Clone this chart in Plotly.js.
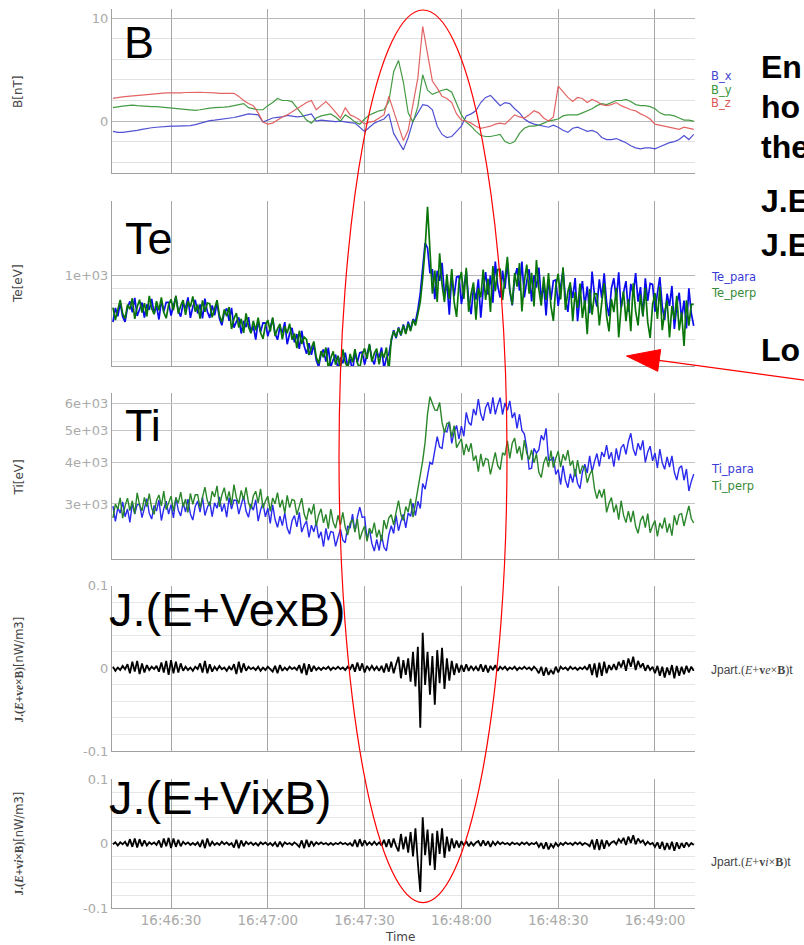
<!DOCTYPE html>
<html><head><meta charset="utf-8">
<script src="https://cdn.plot.ly/plotly-3.0.1.min.js"></script>
<style>html,body{margin:0;padding:0;background:#fff}#chart{width:804px;height:945px}</style>
</head><body><div id="chart"></div>
<script>
// ---------- data ----------
const DAY = '2015-10-16';
const T_START = 12;      // first sample, seconds after 16:46:00
const STEP_B = 1.5;      // sampling of the B series (s)
const STEP = 0.75;       // sampling of Te, Ti, J series (s)

const Bx = [-1.0,-1.1,-1.1,-1.05,-1.0,-0.9,-0.8,-0.7,-0.65,-0.6,
-0.55,-0.5,-0.5,-0.5,-0.5,-0.48,-0.45,-0.35,-0.2,-0.05,
0.05,0.1,0.15,0.25,0.3,0.35,0.45,0.55,0.7,0.65,
0.6,-0.1,0.1,0.3,0.35,0.4,0.55,0.5,0.4,0.45,
0.55,0.7,0.0,0.1,0.05,0.0,-0.05,0.0,-0.1,-0.15,
-0.2,-0.6,-1.0,-0.6,-0.2,0.0,0.2,0.7,-1.2,-2.0,
-2.8,-1.6,0.0,0.8,1.6,1.5,1.1,-0.5,-1.3,-1.6,
-1.5,-1.0,-0.5,0.5,0.7,1.0,1.8,2.3,2.5,2.0,
1.5,1.8,1.7,1.2,0.8,0.2,-0.1,-0.3,-0.4,-0.5,
-0.6,-0.4,-0.6,-0.9,-1.1,-0.7,-0.6,-0.8,-1.0,-0.9,
-1.1,-1.6,-1.8,-1.8,-1.7,-1.9,-2.1,-2.4,-2.6,-2.7,
-2.6,-2.6,-2.7,-2.5,-2.3,-2.1,-2.0,-1.8,-1.4,-1.8,
-1.3];
const By = [1.3,1.4,1.45,1.5,1.55,1.5,1.45,1.45,1.4,1.4,
1.35,1.3,1.3,1.25,1.2,1.15,1.1,1.05,1.1,1.2,
1.25,1.3,1.3,1.35,1.4,1.5,1.6,1.7,1.3,1.2,
1.1,1.1,1.5,1.8,2.2,2.0,2.0,1.9,1.3,0.6,
0.1,-0.2,0.3,0.5,0.6,0.7,0.4,0.0,0.6,0.3,
-0.1,-0.3,0.2,0.6,0.8,1.0,1.1,1.9,4.8,5.9,
3.8,0.8,-0.1,1.4,4.5,3.0,2.6,2.8,3.0,3.1,
2.8,1.7,0.6,-0.1,-0.5,-1.0,-1.4,-1.5,-1.5,-1.4,
-1.3,-2.0,-2.2,-2.0,-1.2,-0.7,-0.5,-0.5,-0.4,-0.2,
0.0,0.1,0.2,0.5,0.6,0.6,0.6,0.8,1.0,1.2,
1.5,1.7,1.6,1.8,2.0,2.0,2.1,1.9,1.6,1.5,
1.5,1.4,1.2,0.8,0.6,0.6,0.5,0.3,0.1,0.1,
0.0];
const Bz = [2.2,2.3,2.35,2.4,2.45,2.5,2.55,2.6,2.6,2.65,
2.7,2.75,2.75,2.72,2.75,2.78,2.8,2.8,2.8,2.78,
2.8,2.75,2.7,2.72,2.75,2.7,2.4,2.0,1.7,1.5,
0.8,-0.1,-0.3,-0.2,0.1,0.4,0.6,0.9,1.2,1.5,
1.8,2.0,1.1,1.5,1.9,1.4,0.9,0.3,1.3,0.6,
0.4,0.1,-0.3,-0.1,0.0,0.3,0.6,2.4,1.0,-0.3,
-1.9,-0.9,1.5,4.2,9.2,6.5,3.9,3.2,2.4,2.2,
1.8,0.7,0.1,0.0,-0.2,-0.5,-0.7,-0.6,-0.5,-0.3,
-0.2,-0.3,0.2,0.6,0.4,0.3,0.6,1.0,0.8,0.3,
0.0,0.4,3.4,2.8,2.3,1.9,2.3,2.2,1.8,2.1,
1.9,1.6,1.5,1.6,1.8,1.5,1.3,1.1,1.0,0.7,
0.5,0.2,-0.3,-0.4,-0.5,-0.6,-0.7,-0.8,-0.6,-0.7,
-0.8];

const Te_para = [689,771,721,803,718,689,773,813,745,837,
723,769,805,713,794,760,830,737,784,703,
818,749,807,807,726,785,844,753,719,801,
768,840,712,779,823,738,793,709,832,749,
712,787,727,801,708,671,744,769,695,772,
658,691,714,628,695,661,716,632,668,598,
695,635,684,683,614,661,707,628,597,663,
632,688,576,627,657,585,625,555,642,569,
533,581,529,575,507,480,532,552,501,560,
479,508,530,467,518,494,538,480,513,462,
541,498,538,541,489,531,572,512,490,543,
517,561,473,517,532,590,645,605,660,618,
675,630,690,648,705,690,760,870,1050,1300,
1250,1020,1053,828,1041,960,1110,856,943,731,
1005,849,991,997,796,920,1040,818,734,908,
825,972,713,894,1029,858,1002,805,1120,922,
839,1042,902,1107,879,787,984,1063,886,1120,
840,960,1053,813,1004,909,1067,832,926,726,
974,823,959,966,784,915,1044,829,747,922,
836,981,693,850,958,783,917,740,1034,855,
780,971,835,1019,804,722,904,980,821,1027,
768,875,957,748,936,859,1021,811,912,722,
979,816,940,933,749,870,989,780,700,865,
784,921,651,786,872,706,818,654,904,739,
668];
const Te_perp = [773,700,761,823,737,708,793,763,834,706,
777,824,743,802,721,850,768,733,815,757,
839,745,710,792,827,758,852,737,785,821,
729,813,778,846,749,793,708,820,748,803,
799,715,768,821,726,688,762,721,777,651,
707,740,659,707,631,739,663,629,695,644,
713,632,602,671,700,638,715,615,652,679,
599,665,629,680,598,628,558,642,577,610,
599,528,559,589,520,493,545,518,561,472,
515,544,489,525,470,553,497,477,533,498,
554,495,473,531,557,512,578,501,535,556,
490,543,517,561,461,600,640,610,655,620,
670,625,680,640,700,670,735,810,980,1250,
1740,1250,865,1042,810,1198,931,809,1012,829,
1054,808,718,947,1031,830,1066,748,864,947,
702,904,840,1050,823,976,747,1080,883,1051,
1053,822,994,1165,898,792,1022,916,1108,750,
955,1094,865,1023,781,1134,896,786,993,823,
1022,783,695,917,1016,826,1071,759,879,949,
693,877,772,938,712,821,625,898,731,866,
863,670,805,940,722,639,828,746,907,609,
772,881,693,829,640,940,751,670,859,720,
907,688,606,791,869,706,914,645,746,819,
608,783,703,850,644,744,568,820,669,794,
794];

const Ti_para = [2955,2662,2924,2816,3042,2748,2900,2642,3018,2797,
2987,2990,2731,2920,3111,2814,2703,2969,2858,3087,
2676,2904,3058,2796,2988,2723,3139,2874,2761,3026,
2836,3101,2798,2685,2950,3063,2836,3146,2771,2929,
3048,2749,3023,2913,3149,2846,3007,2741,3134,2895,
3082,3074,2798,2984,3168,2856,2735,2995,2874,3090,
2664,2878,3016,2744,2918,2624,2984,2695,2553,2759,
2582,2819,2541,2434,2670,2769,2561,2830,2470,2585,
2665,2381,2592,2473,2647,2368,2474,2232,2534,2335,
2479,2467,2239,2382,2521,2335,2295,2578,2537,2799,
2476,2739,2936,2733,2746,2344,2521,2283,2167,2348,
2175,2421,2223,2169,2424,2580,2447,2772,2493,2660,
2794,2542,2819,2755,3019,2766,3055,2909,3455,3323,
3679,4001,3945,4351,4776,4445,4405,4983,4939,5301,
4564,4931,5166,4701,5139,4793,5652,5277,5167,5789,
5545,6193,5575,5336,5848,6058,5596,6267,5577,5951,
6255,5564,6036,5738,6118,5438,5645,5059,5580,4987,
4873,4426,3819,3844,4406,4264,4366,4819,4662,5059,
4065,4067,4153,3680,3806,3430,3909,3536,3357,3696,
3480,3821,3463,3338,3734,3947,3718,4186,3747,4022,
4252,3891,4295,4156,4510,4094,4290,3883,4404,4053,
4428,4533,4231,4623,4890,4390,4188,4566,4356,4659,
4000,4300,4474,4043,4268,3847,4384,3991,3812,4154,
3872,4185,3734,3540,3844,3905,3535,3822,3282,3506,
3688];
const Ti_perp = [2723,2998,2893,3132,2721,2961,3124,2864,3067,2803,
3240,2976,2861,3138,2944,3222,2910,2794,3072,3193,
2959,3277,2885,3045,3167,2853,3133,3016,3258,2943,
3105,2828,3230,2993,3197,3200,2923,3145,3371,3066,
2964,3275,3151,3399,2943,3192,3358,3068,3275,2980,
3431,3137,3008,3293,3082,3365,3032,2897,3169,3277,
3021,3329,2915,3061,3167,2850,3127,3008,3246,2929,
3088,2810,3182,2925,3096,3072,2782,2950,3122,2804,
2677,2920,2793,2996,2577,2777,2902,2633,2793,2528,
2895,2646,2537,2775,2596,2833,2551,2420,2629,2699,
2470,2703,2348,2477,2574,2316,2541,2445,2638,2380,
2509,2318,2684,2521,2727,2786,2596,2830,3072,2783,
2678,2946,2841,3114,2737,3015,3300,3600,4050,4600,
5600,6300,6000,5750,5727,6049,5273,4911,5232,5264,
4767,5157,4431,4564,4709,4208,4544,4301,4564,4049,
4194,3750,4240,3889,4111,4073,3681,3980,4285,3916,
3803,4272,4205,4645,4115,4564,4729,4254,4471,4062,
4667,4259,4076,4360,3986,4246,3732,3601,3980,4158,
3872,4336,3856,4115,4323,3873,4230,4052,4352,3908,
4051,3624,4064,3696,3898,3855,3476,3671,3801,3338,
3113,3314,3135,3326,2830,3015,3136,2832,2988,2691,
3068,2777,2637,2857,2647,2861,2567,2449,2674,2762,
2547,2808,2460,2584,2674,2397,2631,2531,2731,2464,
2622,2409,2774,2593,2791,2807,2576,2768,2962,2709,
2630];

const J_ve = [.002,-.003,.001,-.002,.003,-.001,
.005,-.006,.008,-.004,.009,-.007,.006,-.005,.004,
-.002,.002,-.001,.003,
-.004,.007,-.005,.009,-.008,.01,-.006,.008,-.005,.006,-.003,
.002,-.002,.001,-.003,.002,-.001,
.006,-.005,.009,-.006,.005,-.004,
.002,-.002,.003,-.001,.001,-.003,.002,-.002,
.005,-.007,.008,-.005,.006,-.003,
.002,-.001,.001,-.002,.002,-.003,.001,-.002,.002,-.001,
-.004,.003,-.006,.004,-.003,
.001,-.002,.002,-.001,.001,-.002,
.004,-.006,.006,-.008,.005,-.004,.003,-.002,
.001,-.002,.001,-.001,.002,-.002,.001,-.001,.002,-.001,.001,-.002,.002,-.001,
.005,-.004,.007,-.003,.006,-.005,.003,
-.002,.003,-.002,.002,-.003,.003,
-.005,.006,-.004,.008,-.006,.005,
.014,-.012,.01,-.008,.012,-.016,.02,-.022,.026,-.072,.043,-.02,.02,-.032,.015,-.044,.022,-.018,.025,-.025,.012,-.015,.009,-.008,
.006,-.005,.004,-.004,.005,-.003,.003,-.002,.002,
-.003,.005,-.004,.004,-.005,.003,-.002,.004,-.003,.002,
-.001,.002,-.002,.001,-.001,.002,-.002,.001,-.001,.002,-.001,.001,-.002,.002,-.001,
-.006,.002,-.009,.001,-.008,-.002,-.007,.002,-.005,
.002,-.001,.001,-.002,.002,-.001,.001,-.002,.001,-.001,.002,-.002,
.005,-.008,.006,-.011,.007,-.009,.008,-.006,.004,
-.002,
.005,-.002,.008,.001,.01,-.003,.012,.002,.014,-.002,.009,.001,.006,-.003,.004,
-.002,.002,
-.006,.003,-.009,.002,-.011,.001,-.008,.004,-.012,.003,-.009,.002,-.007,.003,-.005,
.002,-.003];
const J_vi = [-.001,.002,-.003,.002,-.001,.003,
-.004,.007,-.005,.008,-.006,.007,-.004,.005,-.003,
.002,-.001,.002,-.002,
.005,-.006,.008,-.004,.009,-.007,.008,-.005,.006,-.004,.003,
-.001,.002,-.002,.001,-.002,.002,
-.005,.006,-.007,.008,-.004,.003,
-.002,.001,-.002,.003,-.001,.002,-.002,.001,
-.006,.006,-.007,.005,-.004,.003,
-.001,.002,-.002,.001,-.003,.002,-.001,.002,-.002,.001,
-.003,.002,-.005,.003,-.004,
.002,-.001,.001,-.002,.002,-.001,
-.005,.005,-.007,.006,-.005,.004,-.003,.002,
-.001,.002,-.001,.001,-.002,.001,-.002,.001,-.001,.002,-.001,.001,-.002,.001,
-.004,.006,-.005,.007,-.004,.005,-.002,
.002,-.002,.003,-.002,.002,-.003,
.006,-.005,.007,-.006,.008,-.004,
-.012,.015,-.009,.011,-.014,.018,-.02,.024,-.03,-.075,.041,-.018,.022,-.034,.016,-.041,.02,-.016,.024,-.022,.011,-.012,.008,-.007,
.005,-.006,.004,-.003,.004,-.004,.002,-.003,.002,
.004,-.004,.005,-.003,.004,-.005,.003,-.002,.003,-.001,
.002,-.001,.001,-.002,.002,-.001,.001,-.002,.002,-.001,.002,-.002,.001,-.001,.002,
-.005,.001,-.008,.002,-.009,-.001,-.006,.001,-.004,
.001,-.002,.002,-.001,.001,-.002,.002,-.001,.002,-.002,.001,-.001,
-.004,.006,-.009,.007,-.01,.006,-.008,.005,-.003,
.002,
.004,-.001,.007,.002,.009,-.002,.011,.001,.013,-.001,.008,.002,.005,-.002,.003,
-.001,.001,
-.005,.002,-.008,.003,-.01,.001,-.009,.003,-.011,.002,-.008,.001,-.006,.002,-.004,
.001,-.002];

// ---------- helpers ----------
function stamp(s){
  const m = 46 + Math.floor(s/60);
  const sec = s - 60*Math.floor(s/60);
  return DAY + ' 16:' + m + ':' + (sec < 10 ? '0' : '') + sec.toFixed(3);
}
function times(n, step){ return Array.from({length:n}, (_, i) => stamp(T_START + i*step)); }

const W = 804, H = 945;
const X = p => p / W, Y = p => 1 - p / H;

function tr(y, step, xa, ya, color, width, opacity){
  return {type:'scatter', mode:'lines', x: times(y.length, step), y: y, xaxis: xa, yaxis: ya,
    line:{color: color, width: width}, opacity: opacity || 1, hoverinfo:'skip', showlegend:false};
}

const traces = [
  tr(Bx, STEP_B, 'x', 'y', '#4848d2', 1.2, 0.95),
  tr(By, STEP_B, 'x', 'y', '#3a963a', 1.2, 0.95),
  tr(Bz, STEP_B, 'x', 'y', '#e05c5c', 1.2, 0.95),
  tr(Te_para, STEP, 'x2', 'y2', '#0a0aee', 1.7),
  tr(Te_perp, STEP, 'x2', 'y2', '#0a760a', 1.7),
  tr(Ti_para, STEP, 'x3', 'y3', '#2a2aee', 1.4),
  tr(Ti_perp, STEP, 'x3', 'y3', '#2a862a', 1.4),
  tr(J_ve, STEP, 'x4', 'y4', '#000000', 1.8),
  tr(J_vi, STEP, 'x5', 'y5', '#000000', 1.8)
];

const tickFont = {family:'DejaVu Sans', size:13, color:'#aaaaaa'};
const xBase = {type:'date', domain:[X(112), X(695)], range:[stamp(11.7), stamp(192.4)],
  dtick:30000, tick0: DAY + ' 16:46:00', tickformat:'%H:%M:%S',
  showgrid:true, gridcolor:'#a6a6a6', gridwidth:1, showline:true, linecolor:'#a0a0a0', linewidth:1,
  zeroline:false, ticks:'', showticklabels:false, fixedrange:true,
  tickfont:{family:'DejaVu Sans', size:13.5, color:'#aaaaaa'}};
const yBase = {showline:true, linecolor:'#a0a0a0', linewidth:1, zeroline:false, ticks:'',
  tickfont:tickFont, showgrid:true, fixedrange:true};

const layout = {
  width:W, height:H, margin:{l:0, r:0, t:0, b:0},
  paper_bgcolor:'#ffffff', plot_bgcolor:'#ffffff', showlegend:false,
  font:{family:'DejaVu Sans'},
  xaxis:  Object.assign({}, xBase, {anchor:'y'}),
  xaxis2: Object.assign({}, xBase, {anchor:'y2'}),
  xaxis3: Object.assign({}, xBase, {anchor:'y3'}),
  xaxis4: Object.assign({}, xBase, {anchor:'y4'}),
  xaxis5: Object.assign({}, xBase, {anchor:'y5', showticklabels:true}),
  yaxis: Object.assign({}, yBase, {anchor:'x', domain:[Y(173), Y(9.3)], range:[-5.05, 10.87],
    tickmode:'linear', tick0:0, dtick:10, gridcolor:'#b8b8b8',
    minor:{tickmode:'linear', tick0:0, dtick:2, showgrid:true, gridcolor:'#e2e2e2', gridwidth:1}}),
  yaxis2: Object.assign({}, yBase, {anchor:'x2', type:'log', domain:[Y(366), Y(201)], range:[2.6843, 3.2612],
    tickmode:'array', tickvals:[1000], ticktext:['1e+03'], gridcolor:'#b8b8b8',
    minor:{tickmode:'array', tickvals:[500,600,700,800,900], showgrid:true, gridcolor:'#e2e2e2', gridwidth:1}}),
  yaxis3: Object.assign({}, yBase, {anchor:'x3', type:'log', domain:[Y(559), Y(393.3)], range:[3.3119, 3.8095],
    tickmode:'array', tickvals:[3000,4000,5000,6000], ticktext:['3e+03','4e+03','5e+03','6e+03'], gridcolor:'#c4c4c4'}),
  yaxis4: Object.assign({}, yBase, {anchor:'x4', domain:[Y(751), Y(585.7)], range:[-0.10005, 0.10005],
    tickmode:'array', tickvals:[-0.1, 0, 0.1], ticktext:['-0.1','0','0.1'], gridcolor:'#d8d8d8',
    minor:{tickmode:'array', tickvals:[-0.08,-0.06,-0.04,-0.02,0.02,0.04,0.06,0.08], showgrid:true, gridcolor:'#e6e6e6', gridwidth:1}}),
  yaxis5: Object.assign({}, yBase, {anchor:'x5', domain:[Y(908), Y(779.3)], range:[-0.10005, 0.10005],
    tickmode:'array', tickvals:[-0.1, 0, 0.1], ticktext:['-0.1','0','0.1'], gridcolor:'#d8d8d8',
    minor:{tickmode:'array', tickvals:[-0.08,-0.06,-0.04,-0.02,0.02,0.04,0.06,0.08], showgrid:true, gridcolor:'#e6e6e6', gridwidth:1}}),
  shapes: [
    {type:'circle', xref:'paper', yref:'paper', x0:X(339), x1:X(507), y0:Y(902.7), y1:Y(10),
      line:{color:'#ff0000', width:1.2}, layer:'above'},
    {type:'line', xref:'paper', yref:'paper', x0:X(806), y0:Y(380.3), x1:X(659), y1:Y(360.4),
      line:{color:'#ff0000', width:1.2}, layer:'above'},
    {type:'path', xref:'paper', yref:'paper',
      path:'M' + X(626.5) + ',' + Y(356) + ' L' + X(660.7) + ',' + Y(349.5) + ' L' + X(657.7) + ',' + Y(371.3) + ' Z',
      fillcolor:'#ff0000', line:{color:'#ff0000', width:1}, layer:'above'}
  ],
  annotations: []
};

function ann(text, px, py, opts){
  layout.annotations.push(Object.assign({text:text, x:X(px), y:Y(py), xref:'paper', yref:'paper',
    showarrow:false, xanchor:'left', yanchor:'middle'}, opts || {}));
}
const big = {family:'Liberation Sans, Arial, sans-serif', size:45, color:'#000000'};
const bigJ = {family:'Liberation Sans, Arial, sans-serif', size:47, color:'#000000'};
ann('B', 122, 42.5, {font:big});
ann('Te', 123, 238.5, {font:big});
ann('Ti', 123, 426, {font:big});
ann('J.(E+VexB)', 107, 609, {font:bigJ});
ann('J.(E+VixB)', 107, 797.5, {font:bigJ});

const leg = c => ({family:'DejaVu Sans', size:11.5, color:c});
ann('B_x', 709, 76, {font:leg('#4545d0')});
ann('B_y', 709, 89.5, {font:leg('#3a963a')});
ann('B_z', 709, 103, {font:leg('#e05555')});
ann('Te_para', 709, 277, {font:leg('#3a3ad6')});
ann('Te_perp', 709, 293.5, {font:leg('#3a8a3a')});
ann('Ti_para', 709, 469, {font:leg('#3a3ad6')});
ann('Ti_perp', 709, 486, {font:leg('#3a8a3a')});
const serifLab = {family:'Liberation Serif', size:12, color:'#444444'};
ann('<span style="font-family:Liberation Sans">Jpart.</span>(<i>E</i>+<b>v</b><i>e</i>×<b>B</b>)<span style="font-family:Liberation Sans">t</span>', 709, 670, {font:serifLab});
ann('<span style="font-family:Liberation Sans">Jpart.</span>(<i>E</i>+<b>v</b><i>i</i>×<b>B</b>)<span style="font-family:Liberation Sans">t</span>', 709, 862, {font:serifLab});

const ytitle = {family:'DejaVu Sans', size:12, color:'#444444'};
ann('B[nT]', 18, 92, {font:ytitle, textangle:-90, xanchor:'center'});
ann('Te[eV]', 18, 284, {font:ytitle, textangle:-90, xanchor:'center'});
ann('Ti[eV]', 18, 477.5, {font:ytitle, textangle:-90, xanchor:'center'});
const jt = {family:'Liberation Serif', size:11.5, color:'#444444'};
ann('<b>J.(<i>E</i>+v<i>e</i>×B)</b><span style="font-family:DejaVu Sans">[nW/m3]</span>', 18, 669.5, {font:jt, textangle:-90, xanchor:'center'});
ann('<b>J.(<i>E</i>+v<i>i</i>×B)</b><span style="font-family:DejaVu Sans">[nW/m3]</span>', 18, 843.5, {font:jt, textangle:-90, xanchor:'center'});
ann('Time', 400, 937, {font:{family:'DejaVu Sans', size:12, color:'#444444'}, xanchor:'center'});

const bold = {family:'Liberation Sans, Arial, sans-serif', size:32, color:'#000000', weight:700};
ann('<b>En</b>', 759, 66.5, {font:bold});
ann('<b>ho</b>', 759, 106.5, {font:bold});
ann('<b>the</b>', 759, 147, {font:bold});
ann('<b>J.E</b>', 759, 201.5, {font:bold});
ann('<b>J.E</b>', 759, 245, {font:bold});
ann('<b>Lo</b>', 759, 350, {font:bold});

Plotly.newPlot('chart', traces, layout, {staticPlot:true, displayModeBar:false});
</script>
</body></html>
